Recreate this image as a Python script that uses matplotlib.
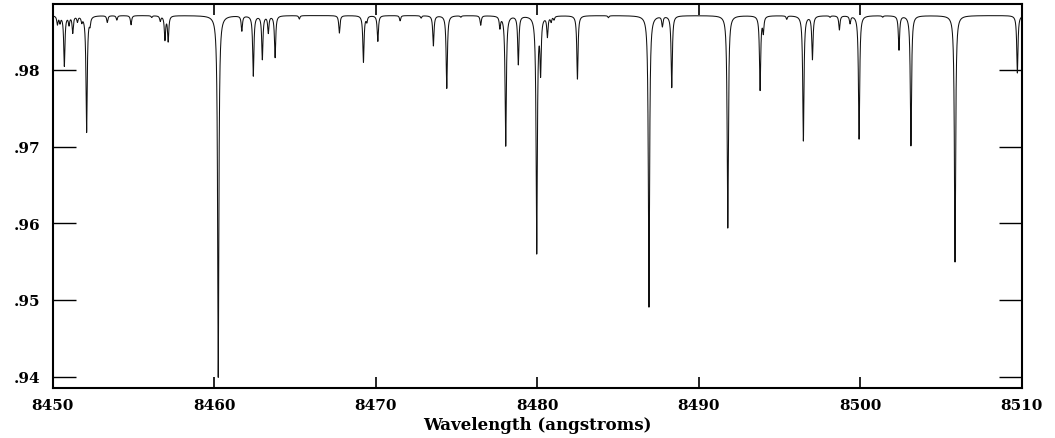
import numpy as np
import matplotlib
matplotlib.use('Agg')
import matplotlib.pyplot as plt
from matplotlib.ticker import FuncFormatter

# Line list: centre (angstroms) and flux at line bottom
continuum = 0.98711
line_centers = [
    8450.30, 8450.46, 8450.73, 8451.02, 8451.25, 8451.54, 8451.81, 8452.11,
    8452.32, 8453.39, 8453.98, 8454.86, 8456.14, 8456.67, 8456.96, 8457.16,
    8460.26, 8461.72, 8462.43, 8462.99, 8463.36, 8463.78, 8465.28, 8467.76,
    8469.25, 8469.46, 8470.14, 8471.52, 8472.82, 8473.58, 8474.41, 8475.28,
    8476.51, 8477.70, 8478.06, 8478.84, 8479.98, 8480.22, 8480.64, 8480.87,
    8481.05, 8482.50, 8484.42, 8486.93, 8487.76, 8488.34, 8491.81, 8493.81,
    8494.01, 8495.46, 8496.49, 8497.05, 8498.14, 8498.72, 8499.38, 8499.94,
    8501.40, 8502.41, 8503.15, 8505.88, 8509.74,
]
line_minima = [
    0.98600, 0.98626, 0.98056, 0.98600, 0.98492, 0.98640, 0.98643, 0.97191,
    0.98620, 0.98623, 0.98653, 0.98591, 0.98688, 0.98643, 0.98400, 0.98380,
    0.93990, 0.98513, 0.97926, 0.98144, 0.98492, 0.98166, 0.98666, 0.98483,
    0.98104, 0.98640, 0.98375, 0.98643, 0.98679, 0.98317, 0.97761, 0.98692,
    0.98587, 0.98560, 0.97012, 0.98078, 0.95625, 0.98013, 0.98448, 0.98643,
    0.98666, 0.97883, 0.98685, 0.94907, 0.98578, 0.97774, 0.95938, 0.97743,
    0.98509, 0.98666, 0.97077, 0.98144, 0.98692, 0.98526, 0.98613, 0.97099,
    0.98692, 0.98265, 0.97012, 0.95494, 0.97961,
]
line_width = 0.045  # lorentzian half width, angstroms

x_ticks = [8450, 8460, 8470, 8480, 8490, 8500, 8510]
y_ticks = [0.94, 0.95, 0.96, 0.97, 0.98]

# Build the spectrum from the line list
wave = np.linspace(8450, 8510, 40001)
flux = np.full_like(wave, continuum)
for c, m in zip(line_centers, line_minima):
    flux -= (continuum - m) / (1 + ((wave - c) / line_width) ** 2)

plt.rcParams['font.family'] = ['DejaVu Serif']

fig = plt.figure(figsize=(10.55, 4.39), dpi=100)
ax = fig.add_axes([0.0498, 0.1139, 0.9185, 0.8754])

ax.plot(wave, flux, color='#111111', lw=0.75)

ax.set_xlim(8450, 8510)
ax.set_ylim(0.9385, 0.98865)
ax.set_xticks(x_ticks)
ax.set_yticks(y_ticks)
ax.yaxis.set_major_formatter(FuncFormatter(lambda v, p: ('%.2f' % v).lstrip('0')))

ax.tick_params(axis='y', direction='in', length=16.5, width=1.0,
               left=True, right=True, labelsize=11, pad=9)
ax.tick_params(axis='x', direction='in', length=8, width=1.2,
               bottom=True, top=True, labelsize=11, pad=7)
for lab in ax.get_xticklabels() + ax.get_yticklabels():
    lab.set_fontweight('bold')

for s in ax.spines.values():
    s.set_linewidth(1.5)

ax.set_xlabel('Wavelength (angstroms)', fontsize=12, fontweight='bold', labelpad=3)

fig.savefig('out.png', dpi=100)
